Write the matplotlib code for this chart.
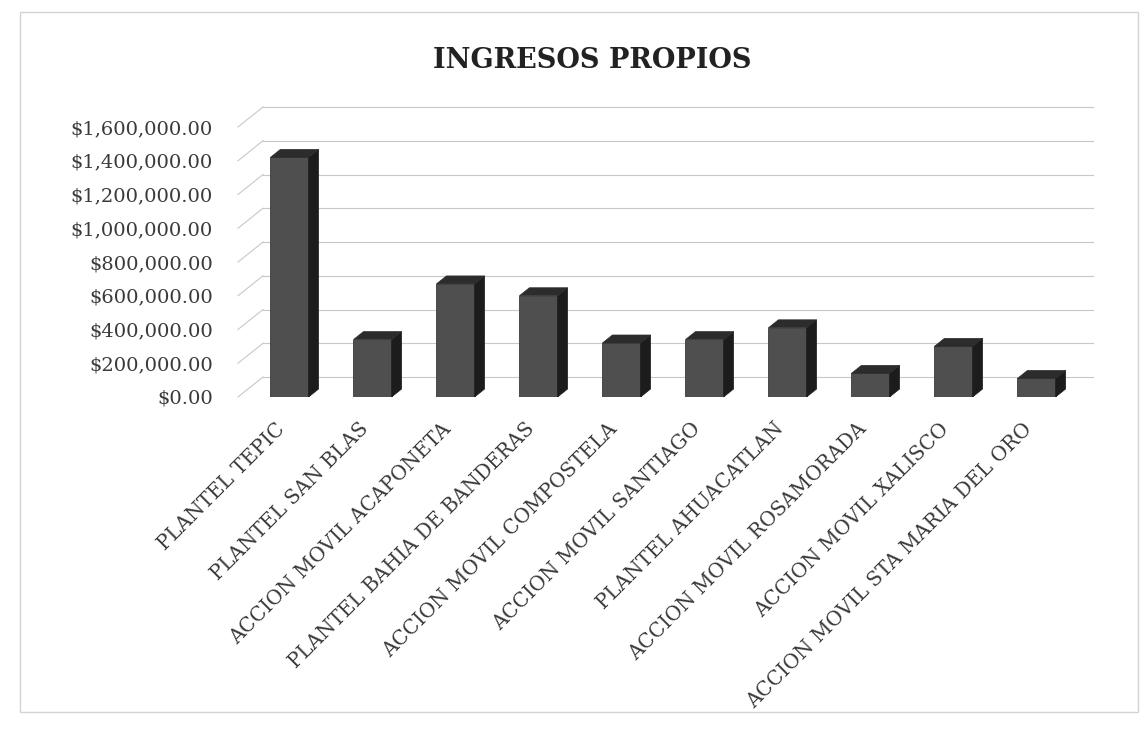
import matplotlib
matplotlib.use("Agg")
import matplotlib.pyplot as plt
from matplotlib.patches import Polygon, Rectangle
from matplotlib.ticker import FuncFormatter

categorias = [
    "PLANTEL TEPIC",
    "PLANTEL SAN BLAS",
    "ACCION MOVIL ACAPONETA",
    "PLANTEL BAHIA DE BANDERAS",
    "ACCION MOVIL COMPOSTELA",
    "ACCION MOVIL SANTIAGO",
    "PLANTEL AHUACATLAN",
    "ACCION MOVIL ROSAMORADA",
    "ACCION MOVIL XALISCO",
    "ACCION MOVIL STA MARIA DEL ORO",
]
ingresos = [1420000, 340000, 670000, 600000, 320000, 340000, 410000, 140000, 300000, 110000]
ticks = [0, 200000, 400000, 600000, 800000, 1000000, 1200000, 1400000, 1600000]

W, H = 1144, 729
fig = plt.figure(figsize=(W / 100, H / 100), dpi=100)
fig.patch.set_facecolor("white")

# front plane of the plot, in pixels
x0, x1 = 238, 1068
y0, y1 = 397, 127
ax = fig.add_axes([x0 / W, 1 - y0 / H, (x1 - x0) / W, (y0 - y1) / H])
n = len(categorias)
ax.set_xlim(-0.5, n - 0.5)
ax.set_ylim(0, 1600000)
for s in ax.spines.values():
    s.set_visible(False)

# pixel -> data helpers
px = n / (x1 - x0)
py = 1600000 / (y0 - y1)

serif = "DejaVu Serif"

# back wall gridlines + left wall slants
gdx, gdy = 25 * px, 20 * py
for v in ticks:
    ax.plot([-0.5, -0.5 + gdx], [v, v + gdy], color="#c8c8c8", lw=0.8,
            clip_on=False, zorder=0)
    ax.plot([-0.5 + gdx, n - 0.5 + gdx], [v + gdy, v + gdy], color="#c8c8c8",
            lw=0.8, clip_on=False, zorder=0)

# bars with a fake 3d side and top
xoff = 10 * px
w = 0.46
ddx, ddy = 10 * px, 8 * py
xs = [i + xoff for i in range(n)]
ax.bar(xs, ingresos, width=w, color="#4f4f4f", edgecolor="#3a3a3a", lw=0.6, zorder=3)
for x, h in zip(xs, ingresos):
    r = x + w / 2
    l = x - w / 2
    ax.add_patch(Polygon([(r, 0), (r + ddx, ddy), (r + ddx, h + ddy), (r, h)],
                         closed=True, fc="#1c1c1c", ec="#1c1c1c", lw=0.5, zorder=3))
    ax.add_patch(Polygon([(l, h), (r, h), (r + ddx, h + ddy), (l + ddx, h + ddy)],
                         closed=True, fc="#2c2c2c", ec="#2c2c2c", lw=0.5, zorder=3))

ax.set_yticks(ticks)
ax.yaxis.set_major_formatter(FuncFormatter(lambda v, p: "${:,.2f}".format(v)))
ax.tick_params(axis="y", length=0, pad=18, labelsize=14, labelcolor="#3a3a3a")
ax.set_xticks([i - 4 * px for i in range(n)])
ax.set_xticklabels(categorias, rotation=45, ha="right", rotation_mode="anchor")
ax.tick_params(axis="x", length=0, pad=16, labelsize=14.3, labelcolor="#3a3a3a")
for lab in ax.get_yticklabels() + ax.get_xticklabels():
    lab.set_fontfamily(serif)

fig.text(592 / W, 1 - 60 / H, "INGRESOS PROPIOS", ha="center", va="center",
         fontsize=19.5, fontweight="bold", family=serif, color="#222222")

# chart frame
fig.add_artist(Rectangle((20 / W, 17 / H), 1118 / W, 700 / H, transform=fig.transFigure,
                         fill=False, ec="#d4d4d4", lw=1))

fig.savefig("out.png", dpi=100)
